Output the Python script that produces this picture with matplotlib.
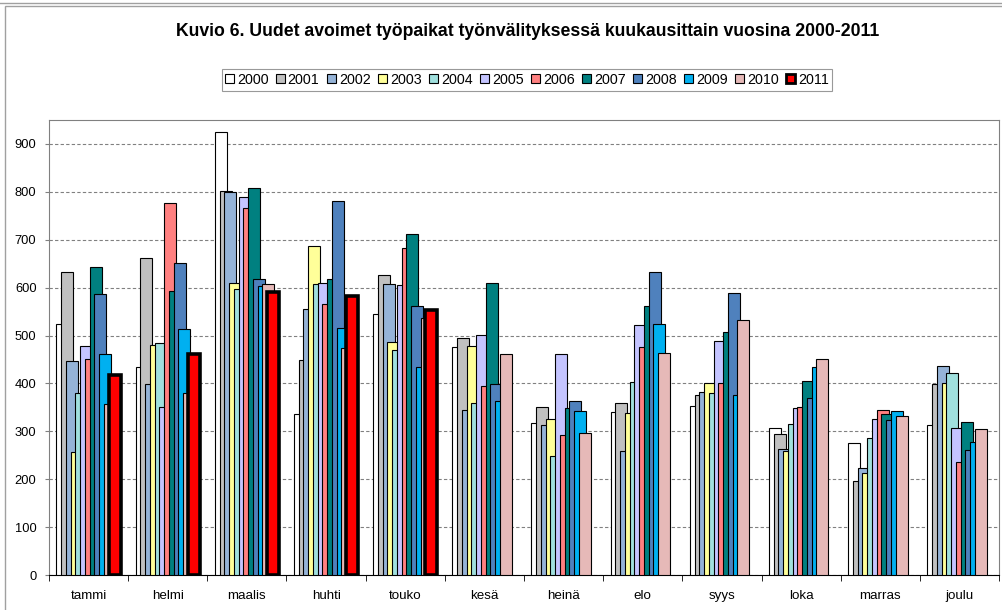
import numpy as np
import matplotlib
matplotlib.use("Agg")
import matplotlib.pyplot as plt
from matplotlib.patches import Rectangle, Patch
from matplotlib.lines import Line2D

plt.rcParams['font.family'] = ['Liberation Sans', 'DejaVu Sans']

# kuukaudet ja vuodet
months = ['tammi', 'helmi', 'maalis', 'huhti', 'touko', 'kesä',
          'heinä', 'elo', 'syys', 'loka', 'marras', 'joulu']
years = ['2000', '2001', '2002', '2003', '2004', '2005',
         '2006', '2007', '2008', '2009', '2010', '2011']

v2000 = [525, 435, 924, 337, 544, 477, 318, 340, 353, 307, 275, 314]
v2001 = [632, 661, 802, 449, 626, 494, 351, 360, 376, 294, 197, 399]
v2002 = [446, 398, 800, 555, 607, 345, 314, 259, 383, 263, 224, 437]
v2003 = [257, 481, 609, 687, 487, 478, 326, 339, 400, 259, 212, 400]
v2004 = [381, 485, 598, 607, 469, 360, 249, 403, 379, 316, 286, 422]
v2005 = [478, 351, 789, 609, 605, 501, 461, 523, 489, 349, 326, 307]
v2006 = [450, 776, 766, 566, 683, 395, 293, 477, 400, 351, 344, 236]
v2007 = [644, 594, 808, 619, 713, 609, 349, 562, 507, 405, 337, 320]
v2008 = [587, 652, 619, 781, 561, 398, 364, 632, 589, 370, 324, 261]
v2009 = [461, 513, 603, 515, 435, 364, 342, 525, 376, 435, 342, 277]
v2010 = [357, 381, 607, 474, 536, 461, 297, 464, 533, 452, 331, 305]
v2011 = [418, 461, 590, 583, 554]   # vain tammi-touko

series = [v2000, v2001, v2002, v2003, v2004, v2005,
          v2006, v2007, v2008, v2009, v2010, v2011]
colors = ['#FFFFFF', '#C0C0C0', '#95B3D7', '#FFFF99', '#A0E0DE', '#C4C4FF',
          '#FF8080', '#008080', '#4F81BD', '#00B0F0', '#E6B9B8', '#FF0000']

fig = plt.figure(figsize=(10.02, 6.1), dpi=100)

# ulkokehys
fig.patches.append(Rectangle((5/1002, -0.05), 1.1, 1 - 6/610 + 0.05, transform=fig.transFigure,
                             fill=False, edgecolor='#A0A0A0', lw=1.0, zorder=0))
fig.lines.append(Line2D([0, 1], [1 - 2.5/610, 1 - 2.5/610], transform=fig.transFigure,
                        color='#A0A0A0', lw=1.0))

ax = fig.add_axes([49/1002, 35/610, 950/1002, 455/610])

# palkkien sijoittelu (Excelin päällekkäiset palkit)
bw = 0.152
step = 0.0600
start = -(11 * step + bw) / 2 + bw / 2

for i, vals in enumerate(series):
    x = np.arange(len(vals)) + start + i * step
    if years[i] == '2011':
        ax.bar(x, vals, width=bw, color=colors[i], edgecolor='black', linewidth=2.6, zorder=3 + i)
    else:
        ax.bar(x, vals, width=bw, color=colors[i], edgecolor='black', linewidth=0.8, zorder=3 + i)

ax.set_xlim(-0.5, 11.5)
ax.set_ylim(0, 950)
ax.set_yticks(range(0, 1000, 100))
ax.tick_params(axis='y', labelsize=9.3, length=3, color='#808080', pad=6)
ax.yaxis.grid(True, linestyle=(0, (3, 2)), color='#808080', linewidth=0.8, zorder=0)
ax.set_axisbelow(True)

ax.set_xticks(np.arange(12))
ax.set_xticklabels(months, fontsize=9.6)
ax.set_xticks(np.arange(-0.5, 12, 1), minor=True)
ax.tick_params(axis='x', which='major', length=0, pad=11)
ax.tick_params(axis='x', which='minor', length=4, color='black')

for s in ['left', 'top', 'right']:
    ax.spines[s].set_color('#808080')
ax.spines['bottom'].set_color('black')

fig.text(528/1002, 1 - 32/610, 'Kuvio 6. Uudet avoimet työpaikat työnvälityksessä kuukausittain vuosina 2000-2011',
         ha='center', va='center', fontsize=12.7, fontweight='bold')

handles = []
for i, y in enumerate(years):
    if y == '2011':
        handles.append(Patch(facecolor=colors[i], edgecolor='black', linewidth=2.0, label=y))
    else:
        handles.append(Patch(facecolor=colors[i], edgecolor='black', linewidth=0.8, label=y))
leg = fig.legend(handles=handles, loc='center', bbox_to_anchor=(527/1002, 1 - 80/610), ncol=12,
                 fontsize=10.3, frameon=True, fancybox=False, handlelength=0.6, handleheight=0.6,
                 handletextpad=0.2, columnspacing=0.55, borderpad=0.25)
leg.get_frame().set_edgecolor('#808080')
leg.get_frame().set_linewidth(0.8)

fig.savefig('out.png', dpi=100)
